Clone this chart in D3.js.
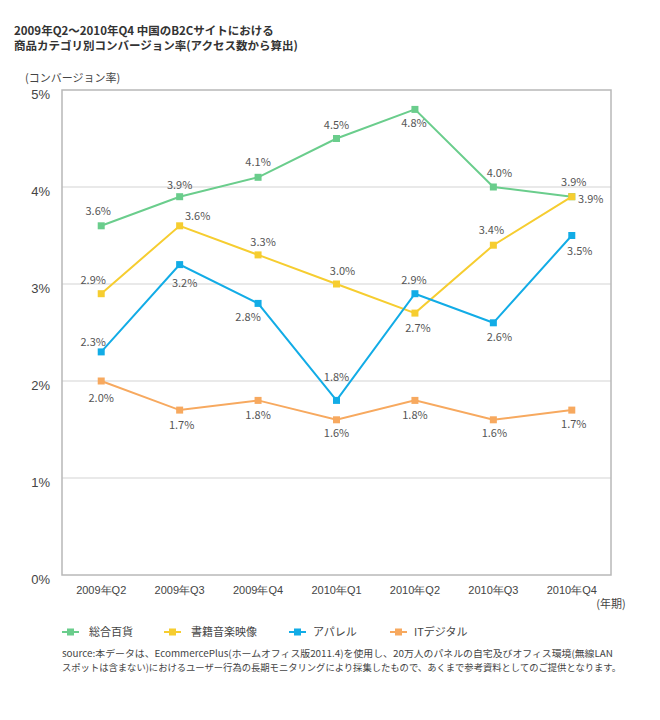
<!DOCTYPE html>
<html>
<head>
<meta charset="utf-8">
<script src="https://cdn.jsdelivr.net/npm/d3@7"></script>
<style>
  body { margin: 0; background: #fff; }
  svg { font-family: "Noto Sans CJK JP", "Noto Sans", sans-serif; }
</style>
</head>
<body>
<div id="chart"></div>
<script>
// quarters along the x axis
var quarters = ["2009年Q2", "2009年Q3", "2009年Q4", "2010年Q1", "2010年Q2", "2010年Q3", "2010年Q4"];

// conversion rates per category (%)
var department = [3.6, 3.9, 4.1, 4.5, 4.8, 4.0, 3.9];
var booksMedia = [2.9, 3.6, 3.3, 3.0, 2.7, 3.4, 3.9];
var apparel = [2.3, 3.2, 2.8, 1.8, 2.9, 2.6, 3.5];
var itDigital = [2.0, 1.7, 1.8, 1.6, 1.8, 1.6, 1.7];

var seriesNames = ["総合百貨", "書籍音楽映像", "アパレル", "ITデジタル"];
var yTicks = [0, 1, 2, 3, 4, 5];

// label nudges (dx, dy) so the value labels sit where the original put them
var labelNudge = [
  [[-3, -11], [0, -8], [0, -11], [0, -10], [-1, 18], [6, -10], [2, -11]],
  [[-8, -10], [18, -6], [5, -9], [6, -9], [3, 19], [-2, -11], [19, 6]],
  [[-8, -6], [5, 22], [-10, 18], [0, -19], [-1, -10], [6, 18], [8, 19]],
  [[0, 21], [2, 19], [0, 19], [0, 17], [0, 19], [1, 17], [2, 18]]
];

var colors = ["#6acd8c", "#f6cd30", "#12ace6", "#f7a95f"];

var series = [department, booksMedia, apparel, itDigital];

var width = 660, height = 720;
var plotLeft = 62, plotRight = 611, plotTop = 90, plotBottom = 575;

var svg = d3.select("#chart").append("svg")
  .attr("width", width).attr("height", height);

// title
var title = svg.append("text").attr("fill", "#333").attr("font-size", 11.5).attr("font-weight", "bold");
title.append("tspan").attr("x", 14).attr("y", 35).text("2009年Q2～2010年Q4 中国のB2Cサイトにおける");
title.append("tspan").attr("x", 14).attr("y", 50).text("商品カテゴリ別コンバージョン率(アクセス数から算出)");

// scales
var x = d3.scaleBand().domain(quarters).range([plotLeft, plotRight]);
var y = d3.scaleLinear().domain([0, 5]).range([plotBottom, plotTop]);
var cx = function(d, i) { return x(quarters[i]) + x.bandwidth() / 2; };

// grid lines
svg.append("g").selectAll("line").data(yTicks.slice(1, -1)).join("line")
  .attr("x1", plotLeft).attr("x2", plotRight)
  .attr("y1", function(d) { return y(d); }).attr("y2", function(d) { return y(d); })
  .attr("stroke", "#e2e2e2").attr("stroke-width", 1.5);

// frame
svg.append("rect").attr("x", plotLeft).attr("y", plotTop)
  .attr("width", plotRight - plotLeft).attr("height", plotBottom - plotTop)
  .attr("fill", "none").attr("stroke", "#b8b8b8").attr("stroke-width", 1.5);

// y axis labels
var yAxis = svg.append("g").attr("transform", "translate(" + (plotLeft - 9) + ",4)")
  .call(d3.axisLeft(y).tickValues(yTicks).tickSize(0).tickFormat(function(d) { return d + "%"; }));
yAxis.select(".domain").remove();
yAxis.selectAll("text").attr("font-size", 13).attr("fill", "#444").attr("font-family", null);

svg.append("text").attr("x", 25).attr("y", 82).attr("font-size", 11).attr("fill", "#444")
  .text("(コンバージョン率)");

// x axis labels
var xAxis = svg.append("g").attr("transform", "translate(0," + (plotBottom + 8) + ")")
  .call(d3.axisBottom(x).tickSize(0));
xAxis.select(".domain").remove();
xAxis.selectAll("text").attr("font-size", 11).attr("fill", "#444").attr("font-family", null);

svg.append("text").attr("x", 611).attr("y", 608).attr("text-anchor", "middle")
  .attr("font-size", 11).attr("fill", "#444").text("(年期)");

// lines, markers and value labels
var line = d3.line().x(cx).y(function(d) { return y(d); });

series.forEach(function(vals, s) {
  var g = svg.append("g");
  g.append("path").datum(vals).attr("d", line)
    .attr("fill", "none").attr("stroke", colors[s]).attr("stroke-width", 2);
  g.selectAll("rect").data(vals).join("rect")
    .attr("x", function(d, i) { return cx(d, i) - 3.5; })
    .attr("y", function(d) { return y(d) - 3.5; })
    .attr("width", 7).attr("height", 7).attr("fill", colors[s]);
  g.selectAll("text").data(vals).join("text")
    .attr("x", function(d, i) { return cx(d, i) + labelNudge[s][i][0]; })
    .attr("y", function(d, i) { return y(d) + labelNudge[s][i][1]; })
    .attr("text-anchor", "middle").attr("font-size", 11).attr("fill", "#555")
    .text(function(d) { return d.toFixed(1) + "%"; });
});

// legend
var legendX = [62, 164, 289, 390];
var legend = svg.append("g").selectAll("g").data(seriesNames).join("g")
  .attr("transform", function(d, i) { return "translate(" + legendX[i] + ",632)"; });
legend.append("line").attr("x1", 0).attr("x2", 17).attr("y1", 0).attr("y2", 0)
  .attr("stroke", function(d, i) { return colors[i]; }).attr("stroke-width", 2);
legend.append("rect").attr("x", 5).attr("y", -3.5).attr("width", 7).attr("height", 7)
  .attr("fill", function(d, i) { return colors[i]; });
legend.append("text").attr("x", function(d, i) { return i < 2 ? 27 : 24; }).attr("y", 4)
  .attr("font-size", 11).attr("fill", "#444").text(function(d) { return d; });

// source note
var note = svg.append("text").attr("font-size", 9.5).attr("fill", "#444");
note.append("tspan").attr("x", 62).attr("y", 657)
  .attr("textLength", 551).attr("lengthAdjust", "spacingAndGlyphs")
  .text("source:本データは、EcommercePlus(ホームオフィス版2011.4)を使用し、20万人のパネルの自宅及びオフィス環境(無線LAN");
note.append("tspan").attr("x", 62).attr("y", 671)
  .attr("textLength", 559).attr("lengthAdjust", "spacingAndGlyphs")
  .text("スポットは含まない)におけるユーザー行為の長期モニタリングにより採集したもので、あくまで参考資料としてのご提供となります。");
</script>
</body>
</html>
